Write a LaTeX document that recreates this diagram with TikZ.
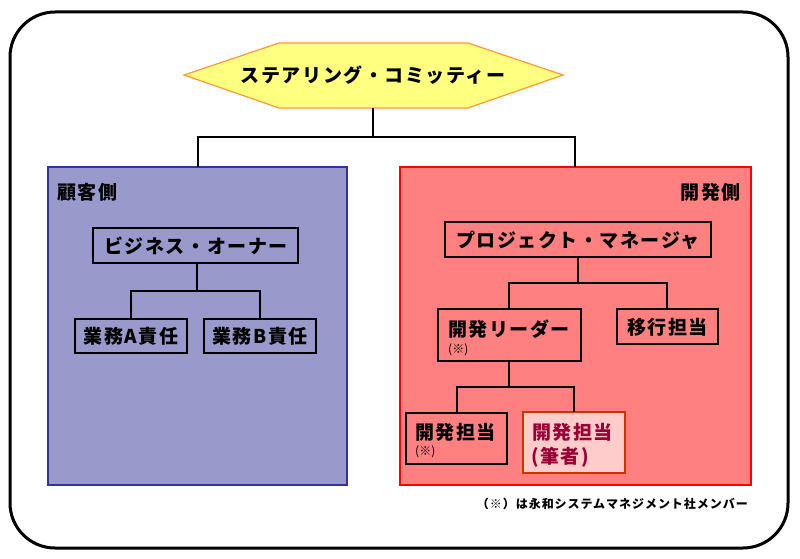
\documentclass[tikz,border=0pt]{standalone}
\usepackage{fontspec}
\setmainfont{Noto Sans CJK JP}
\newfontfamily\jpwide{Noto Sans CJK JP}[LetterSpace=8]
\usetikzlibrary{shapes.geometric}
\definecolor{hexfill}{HTML}{FFFF80}
\definecolor{hexdraw}{HTML}{FF9933}
\definecolor{custfill}{HTML}{9999CC}
\definecolor{custdraw}{HTML}{333399}
\definecolor{devfill}{HTML}{FF8080}
\definecolor{devdraw}{HTML}{FF0000}
\definecolor{mefill}{HTML}{FFCCCC}
\definecolor{medraw}{HTML}{CC3300}
\definecolor{metext}{HTML}{990033}
\begin{document}
\begin{tikzpicture}[x=1pt,y=-1pt,
  rolebox/.style={draw=black,line width=1.5pt,inner sep=0pt},
  conn/.style={draw=black,line width=1.5pt},
  lbl/.style={font=\jpwide\bfseries\fontsize{19}{21}\selectfont,inner sep=0pt},
  note/.style={font=\fontsize{12}{14}\selectfont,inner sep=0pt},
  foot/.style={font=\jpwide\bfseries\fontsize{12}{14}\selectfont,inner sep=0pt},
]
\useasboundingbox (0,0) rectangle (800,559);
\fill[white] (0,0) rectangle (800,559);
% outer frame
\draw[line width=3pt,rounded corners=45pt] (10,12) rectangle (788,548);
% hexagon
\draw[fill=hexfill,draw=hexdraw,line width=1.2pt] (184,75) -- (279,43) -- (468,43) -- (563,75) -- (468,108) -- (279,108) -- cycle;
\node[lbl] (sc) at (373,75.5) {ステアリング・コミッティー};
\coordinate (scb) at (373,108);
% side panels
\draw[fill=custfill,draw=custdraw,line width=1.5pt] (48,167) rectangle (347,485);
\coordinate (custtop) at (198,167);
\draw[fill=devfill,draw=devdraw,line width=1.5pt] (400,167) rectangle (751,485);
\coordinate (devtop) at (575,167);
\draw[conn] (scb) -- (373,137) -| (custtop);
\draw[conn] (373,137) -| (devtop);
\node[lbl,anchor=west] (cust) at (57,192) {顧客側};
\node[lbl,anchor=east] (dev) at (741,192) {開発側};
% customer side
\draw[rolebox] (93,228) rectangle (298,263);
\node[lbl] (bo) at (196,245.5) {ビジネス・オーナー};
\coordinate (bob) at (197,263);
\draw[rolebox] (75,319) rectangle (187,353);
\node[lbl] (ga) at (131,336) {業務A責任};
\draw[rolebox] (204,319) rectangle (316,353);
\node[lbl] (gb) at (260,336) {業務B責任};
\draw[conn] (bob) -- (197,291) -| (131,319);
\draw[conn] (197,291) -| (260,319);
% dev side
\draw[rolebox] (445,222) rectangle (711,257);
\node[lbl] (pm) at (578,240) {プロジェクト・マネージャ};
\draw[rolebox] (438,309) rectangle (581,361);
\node[lbl,anchor=west] (dl) at (448,329) {開発リーダー};
\node[note,anchor=west] (dln) at (448,350) {(※)};
\draw[rolebox] (617,309) rectangle (718,344);
\node[lbl] (ik) at (667.5,327) {移行担当};
\draw[conn] (578,257) -- (578,283) -| (509,309);
\draw[conn] (578,283) -| (667,309);
\draw[rolebox] (406,413) rectangle (507,464);
\node[lbl,anchor=west] (kt) at (415,432) {開発担当};
\node[note,anchor=west] (ktn) at (415,452) {(※)};
\draw[fill=mefill,draw=medraw,line width=2pt] (523,412) rectangle (625,473);
\node[lbl,anchor=west,text=metext] (me) at (532,432) {開発担当};
\node[lbl,anchor=west,text=metext] (men) at (531,457) {(筆者)};
\draw[conn] (509,361) -- (509,387) -| (457,413);
\draw[conn] (509,387) -| (574,412);
% footnote
\node[foot,anchor=east] (fn) at (748,504) {（※）は永和システムマネジメント社メンバー};
\end{tikzpicture}
\end{document}
